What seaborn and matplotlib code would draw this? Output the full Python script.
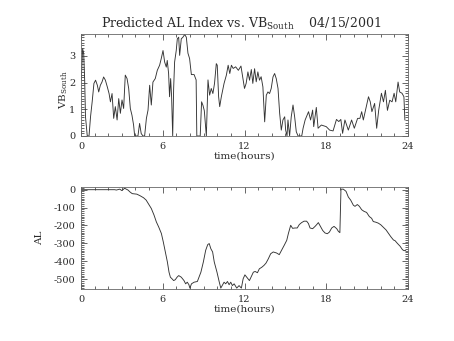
import matplotlib
matplotlib.use("Agg")
import numpy as np
import pandas as pd
import seaborn as sns
import matplotlib.pyplot as plt
from matplotlib.ticker import MultipleLocator

# Southward IMF driver VB_South (mV/m) against time of day (hours)
vb_time = [0.02, 0.12, 0.2, 0.27, 0.33, 0.46, 0.59, 0.7, 0.82, 0.95, 1.07, 1.2, 1.3, 1.42,
           1.54, 1.66, 1.79, 1.93, 2.06, 2.16, 2.28, 2.4, 2.52, 2.65, 2.77, 2.89, 3.01, 3.13,
           3.25, 3.38, 3.5, 3.62, 3.74, 3.86, 3.94, 4.18, 4.3, 4.42, 4.55, 4.67, 4.8, 4.92,
           5.04, 5.16, 5.28, 5.45, 5.6, 5.77, 5.89, 6.02, 6.14, 6.26, 6.33, 6.43, 6.5, 6.58,
           6.65, 6.73, 6.8, 6.87, 6.99, 7.07, 7.17, 7.24, 7.36, 7.48, 7.61, 7.73, 7.85, 7.97,
           8.1, 8.3, 8.45, 8.5, 8.75, 8.85, 8.95, 9.05, 9.2, 9.32, 9.44, 9.56, 9.68, 9.8,
           9.93, 10.0, 10.1, 10.18, 10.3, 10.5, 10.67, 10.8, 10.92, 11.04, 11.17, 11.35, 11.55,
           11.74, 11.86, 12.0, 12.12, 12.25, 12.37, 12.5, 12.61, 12.74, 12.86, 12.98, 13.1,
           13.22, 13.35, 13.48, 13.6, 13.72, 13.84, 13.96, 14.09, 14.21, 14.33, 14.46, 14.58,
           14.7, 14.82, 14.95, 15.02, 15.12, 15.19, 15.31, 15.43, 15.56, 15.68, 15.8, 15.93,
           16.2, 16.3, 16.45, 16.7, 16.85, 17.0, 17.08, 17.27, 17.4, 17.64, 18.0, 18.25, 18.5,
           18.75, 18.92, 19.07, 19.2, 19.37, 19.62, 19.86, 20.06, 20.3, 20.47, 20.6, 20.72,
           20.94, 21.1, 21.23, 21.35, 21.55, 21.7, 21.85, 22.05, 22.2, 22.34, 22.49, 22.66,
           22.83, 22.98, 23.1, 23.27, 23.39, 23.56, 23.7, 23.77]
vb_south = [2.09, 3.27, 3.08, 2.09, 0.72, 0.0, 0.0, 0.72, 1.28, 1.97, 2.09, 1.9, 1.65, 1.9,
            2.02, 2.21, 2.09, 1.84, 1.59, 1.28, 1.59, 0.66, 1.1, 0.6, 1.4, 0.85, 1.35, 1.03,
            2.28, 2.15, 1.78, 1.03, 0.78, 0.41, 0.0, 0.0, 0.47, 0.09, 0.0, 0.0, 0.66, 0.97,
            1.9, 1.16, 2.02, 2.15, 2.46, 2.65, 2.9, 3.2, 2.77, 2.58, 2.83, 2.34, 1.47, 2.15,
            1.47, 0.0, 1.78, 2.77, 3.2, 3.64, 3.7, 3.02, 3.64, 3.7, 3.8, 3.7, 3.1, 2.9,
            2.3, 2.3, 2.1, 0.0, 0.0, 1.28, 1.15, 0.95, 0.0, 2.1, 1.53, 1.78, 1.59, 1.97,
            2.71, 2.65, 1.47, 1.1, 1.47, 1.97, 2.28, 2.65, 2.34, 2.65, 2.53, 2.59, 2.46,
            2.62, 2.22, 1.78, 1.97, 2.4, 2.09, 2.49, 1.97, 2.52, 2.03, 2.4, 2.09,
            2.22, 1.84, 0.53, 1.53, 1.65, 1.59, 1.78, 2.21, 2.34, 2.15, 1.78, 0.85,
            0.22, 0.6, 0.72, 0.22, 0.0, 0.6, 0.0, 0.72, 1.16, 0.72, 0.16, 0.0,
            0.0, 0.29, 0.6, 0.91, 0.6, 0.97, 0.35, 1.07, 0.29, 0.41, 0.35, 0.22, 0.19,
            0.62, 0.54, 0.62, 0.1, 0.6, 0.22, 0.6, 0.29, 0.66, 0.66, 0.91, 0.6,
            1.1, 1.47, 1.28, 0.91, 1.22, 0.29, 0.97, 1.6, 1.28, 1.71, 0.96, 1.34,
            1.28, 1.6, 1.28, 2.02, 1.65, 1.6, 1.47, 0.6]

# Predicted auroral electrojet AL index (nT)
al_time = [0.0, 0.5, 1.0, 1.5, 2.0, 2.47, 2.6, 2.84, 3.0, 3.2, 3.45, 3.6, 3.76, 4.1, 4.34,
           4.59, 4.78, 5.16, 5.36, 5.53, 5.7, 5.9, 6.04, 6.19, 6.34, 6.46, 6.56, 6.68, 6.8,
           6.92, 7.05, 7.17, 7.36, 7.56, 7.68, 7.8, 7.92, 7.99, 8.11, 8.3, 8.54, 8.66, 8.8,
           8.98, 9.15, 9.3, 9.41, 9.53, 9.66, 9.78, 9.98, 10.15, 10.26, 10.5, 10.62, 10.75,
           10.87, 10.99, 11.11, 11.24, 11.43, 11.6, 11.77, 11.9, 12.03, 12.16, 12.36, 12.53,
           12.65, 12.78, 12.95, 13.09, 13.26, 13.43, 13.58, 13.75, 13.92, 14.11, 14.36, 14.55,
           14.72, 14.92, 15.1, 15.22, 15.39, 15.53, 15.7, 15.87, 16.02, 16.19, 16.37, 16.56,
           16.69, 16.81, 17.0, 17.18, 17.3, 17.42, 17.55, 17.74, 17.91, 18.08, 18.23, 18.4,
           18.57, 18.77, 18.89, 19.0, 19.08, 19.25, 19.45, 19.62, 19.79, 19.99, 20.11, 20.28,
           20.43, 20.6, 20.77, 20.96, 21.16, 21.33, 21.45, 21.65, 21.82, 22.0, 22.19, 22.39,
           22.56, 22.73, 22.93, 23.05, 23.22, 23.42, 23.59, 23.71, 23.83]
al_index = [0, 0, 0, 0, 0, 0, -2, 3, -5, 8, -2, -13, -22, -25, -34,
            -45, -58, -105, -142, -180, -208, -245, -292, -348, -404, -461, -489, -498, -508,
            -503, -489, -480, -489, -508, -526, -517, -531, -550, -526, -517, -513, -489, -461,
            -404, -339, -307, -301, -330, -348, -404, -461, -517, -550, -517, -526, -513,
            -531, -517, -536, -526, -550, -536, -550, -498, -476, -489, -508, -480,
            -461, -457, -464, -442, -434, -423, -410, -386, -358, -348, -354, -363,
            -339, -310, -283, -245, -199, -216, -214, -214, -195, -184, -176, -176,
            -189, -214, -218, -205, -195, -184, -202, -228, -242, -246, -237, -214,
            -205, -218, -233, -240, 3, 3, -9, -41, -58, -87, -93, -83,
            -93, -112, -121, -127, -150, -160, -178, -182, -187, -196, -210, -225,
            -243, -262, -281, -285, -300, -316, -335, -341, -339]

hour_ticks = [0, 6, 12, 18, 24]
title_text = "Predicted AL Index vs. VB$_{South}$    04/15/2001"

sns.set_theme(style="ticks")
plt.rcParams['font.family'] = ['DejaVu Serif', 'Liberation Serif']
plt.rcParams['mathtext.default'] = 'regular'
plt.rcParams['axes.unicode_minus'] = False

ink = '#2a2a2a'
vb_df = pd.DataFrame({'time': vb_time, 'vb': vb_south})
al_df = pd.DataFrame({'time': al_time, 'al': al_index})

fig = plt.figure(figsize=(4.54, 3.41), dpi=100)
fig.patch.set_facecolor('white')
ax1 = fig.add_axes([0.1784, 0.6012, 0.7203, 0.2991])
ax2 = fig.add_axes([0.1784, 0.1525, 0.7203, 0.2991])

sns.lineplot(data=vb_df, x='time', y='vb', ax=ax1, color='#333333', lw=0.65,
             estimator=None, sort=False)
sns.lineplot(data=al_df, x='time', y='al', ax=ax2, color='#333333', lw=0.65,
             estimator=None, sort=False)

ax1.set_xlim(0, 24)
ax1.set_ylim(0, 3.82)
ax2.set_xlim(0, 24)
ax2.set_ylim(-555, 15)

for ax in (ax1, ax2):
    ax.set_facecolor('white')
    ax.set_xticks(hour_ticks)
    ax.xaxis.set_minor_locator(MultipleLocator(1))
    ax.tick_params(which='both', direction='in', top=True, right=True,
                   colors=ink, labelsize=7, width=0.5)
    ax.tick_params(which='major', length=4, pad=4)
    ax.tick_params(which='minor', length=2)
    for s in ax.spines.values():
        s.set_linewidth(0.6)
        s.set_color('#666666')
    ax.set_xlabel('time(hours)', fontsize=7.5, color=ink)
    ax.xaxis.set_label_coords(0.5, -0.15)

ax1.set_yticks([0, 1, 2, 3])
ax1.yaxis.set_minor_locator(MultipleLocator(0.1))
ax2.set_yticks([0, -100, -200, -300, -400, -500])
ax2.yaxis.set_minor_locator(MultipleLocator(10))

ax1.set_ylabel('VB$_{South}$', fontsize=7.5, color=ink)
ax1.yaxis.set_label_coords(-0.035, 0.45)
ax2.set_ylabel('AL', fontsize=7.5, color=ink)
ax2.yaxis.set_label_coords(-0.113, 0.5)

fig.text(0.531, 0.918, title_text, ha='center', va='baseline',
         fontsize=9, color=ink)

fig.savefig('out.png', dpi=100, facecolor='white')
